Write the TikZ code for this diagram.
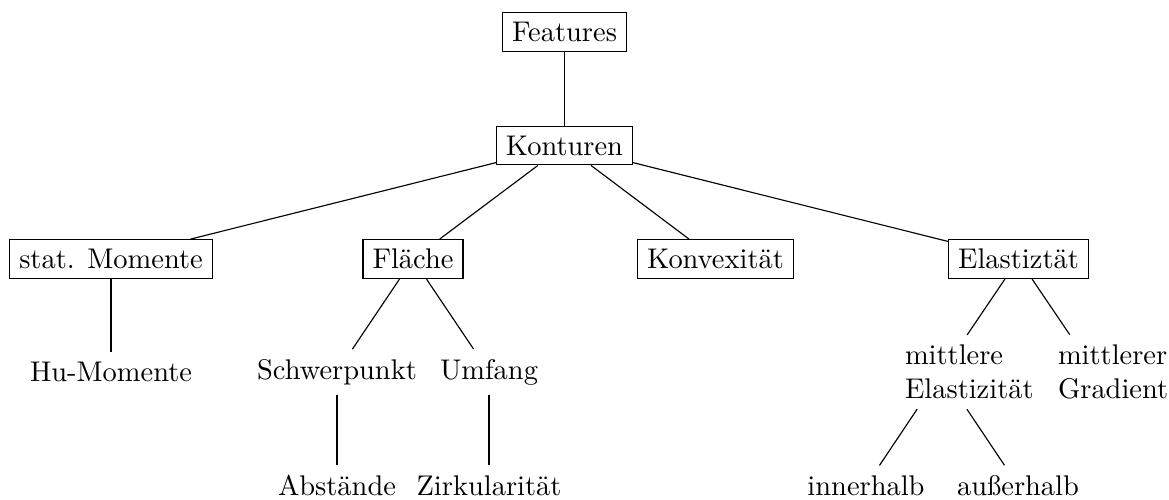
\documentclass[tikz,border=0pt]{standalone}
\begin{document}
\hyphenpenalty=10000
\begin{tikzpicture}[x=0.35149pt,y=-0.35149pt,
  box/.style={draw, inner sep=3.333pt},
  leaf/.style={inner sep=3.333pt},
  narrow/.style={text width=26pt, align=left, inner sep=3.333pt},
  every path/.style={line width=0.4pt}]
\useasboundingbox (0,0) rectangle (1169,499);

% root and first level
\node[box] (features) at (564.5,32) {Features};
\node[box] (konturen) at (564.5,145.5) {Konturen};

% second level
\node[box] (stat)  at (111,259)    {stat. Momente};
\node[box] (flaeche) at (413,259)  {Fläche};
\node[box] (konvex) at (715.5,259) {Konvexität};
\node[box] (elast) at (1018.5,259) {Elastiztät};

% third level
\node[leaf] (hu)     at (111,372) {Hu-Momente};
\node[leaf] (schwer) at (337,372) {Schwerpunkt};
\node[leaf] (umfang) at (489,372) {Umfang};
\node[narrow] (mel)  at (942,372)  {mittlere\\Elastizität};
\node[narrow] (mgr)  at (1095,372) {mittlerer\\Gradient};

% fourth level
\node[leaf] (abst)   at (337,485.5) {Abstände};
\node[leaf] (zirk)   at (489,485.5) {Zirkularität};
\node[leaf] (innen)  at (866,485.5) {innerhalb};
\node[leaf] (aussen) at (1018,485.5) {außerhalb};

% connectors
\draw (features) -- (konturen);
\draw (konturen) -- (stat);
\draw (konturen) -- (flaeche);
\draw (konturen) -- (konvex);
\draw (konturen) -- (elast);
\draw (stat) -- (hu);
\draw (flaeche) -- (schwer);
\draw (flaeche) -- (umfang);
\draw (schwer) -- (abst);
\draw (umfang) -- (zirk);
\draw (elast) -- (mel);
\draw (elast) -- (mgr);
\draw (mel) -- (innen);
\draw (mel) -- (aussen);
\end{tikzpicture}
\end{document}
